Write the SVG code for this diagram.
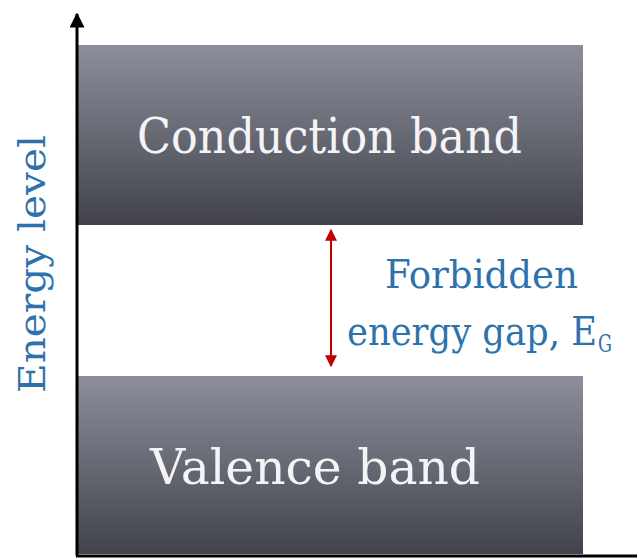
<svg xmlns="http://www.w3.org/2000/svg" width="639" height="559" viewBox="0 0 639 559">
<defs>
<linearGradient id="band" x1="0" y1="0" x2="0" y2="1">
<stop offset="0" stop-color="#8c8f9b"/>
<stop offset="1" stop-color="#41424b"/>
</linearGradient>
<marker id="ax" viewBox="0 0 10 10" refX="9" refY="5" markerWidth="5" markerHeight="5" orient="auto-start-reverse" markerUnits="strokeWidth">
<path d="M0,0 L10,5 L0,10 z" fill="#000"/>
</marker>
<marker id="red" viewBox="0 0 10 10" refX="9" refY="5" markerWidth="6" markerHeight="6" orient="auto-start-reverse" markerUnits="strokeWidth">
<path d="M0,0 L10,5 L0,10 z" fill="#c00000"/>
</marker>
</defs>
<style>
.band{fill:url(#band);}
.bt{font-family:"DejaVu Serif","Liberation Serif",serif;font-size:48px;fill:#f4f4f6;}
.blue{font-family:"DejaVu Serif","Liberation Serif",serif;fill:#2e72ad;}
</style>
<rect width="639" height="559" fill="#fff"/>
<g id="conduction">
<rect class="band" x="78" y="45" width="505" height="180"/>
<text class="bt" x="137" y="153" textLength="385" lengthAdjust="spacingAndGlyphs">Conduction band</text>
</g>
<g id="valence">
<rect class="band" x="78" y="376" width="505" height="178"/>
<text class="bt" x="150" y="484" textLength="330" lengthAdjust="spacingAndGlyphs">Valence band</text>
</g>
<g id="axes">
<line x1="77" y1="556" x2="77" y2="14" stroke="#000" stroke-width="3" marker-end="url(#ax)"/>
<line x1="76" y1="556" x2="637" y2="556" stroke="#000" stroke-width="3"/>
</g>
<g id="ylabel">
<text class="blue" font-size="38" transform="translate(45,393) rotate(-90)" textLength="258" lengthAdjust="spacingAndGlyphs">Energy level</text>
</g>
<g id="connectors">
<line x1="331" y1="230" x2="331" y2="366" stroke="#c00000" stroke-width="2" marker-start="url(#red)" marker-end="url(#red)"/>
</g>
<g id="gaplabel">
<text class="blue" font-size="40" x="347" y="288" dx="38" textLength="193" lengthAdjust="spacingAndGlyphs">Forbidden</text>
<text class="blue" font-size="40" x="347" y="345"><tspan textLength="250" lengthAdjust="spacingAndGlyphs">energy gap, E</tspan><tspan font-size="25" dx="1" dy="7" textLength="14" lengthAdjust="spacingAndGlyphs">G</tspan></text>
</g>
</svg>
